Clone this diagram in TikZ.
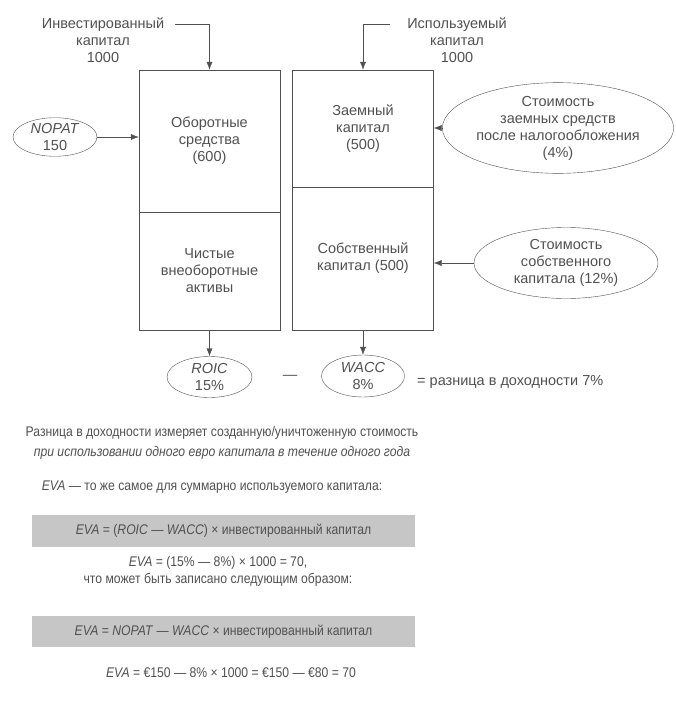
\documentclass[tikz,border=0pt]{standalone}
\usepackage{fontspec}
\setmainfont{Liberation Sans}
\newfontfamily\narrowfont{Liberation Sans}[FakeStretch=0.87]
\usepackage{xcolor}
\usepackage{tikz}
\usetikzlibrary{positioning}
\usetikzlibrary{shapes.geometric, arrows.meta, calc}
\definecolor{ink}{HTML}{505050}
\definecolor{band}{HTML}{C6C6C6}
\tikzstyle{block} = [rectangle, draw=ink, minimum width=141pt, inner sep=0pt, text centered, align=center]
\tikzstyle{oval} = [ellipse, draw=ink, inner sep=0pt, align=center]
\tikzstyle{arrow} = [draw=ink, -{Latex[length=8pt,width=6pt]}]
\tikzstyle{note} = [align=center, inner sep=0pt, font=\narrowfont\fontsize{14}{17}\selectfont]
\tikzstyle{eqband} = [note, fill=band, minimum width=383pt, minimum height=32pt]

\begin{document}
\begin{tikzpicture}[x=1pt, y=-1pt, every node/.style={text=ink}, font=\fontsize{14.5}{17}\selectfont]
\useasboundingbox (0,0) rectangle (676,704);
% invested capital
\node[block, minimum height=142pt] (cur) at (209.5,141) {Оборотные\\средства\\(600)};
\node[block, minimum height=118pt] (fix) at (209.5,271) {Чистые\\внеоборотные\\активы};
% capital employed
\node[block, minimum height=117pt] (debt) at (363,128.5) {Заемный\\капитал\\(500)};
\node[block, minimum height=143pt] (equity) at (363,258.5) {Собственный\\капитал (500)};
\node[align=center] (invested) at (103,40) {Инвестированный\\капитал\\1000};
\node[align=center] (employed) at (457,40) {Используемый\\капитал\\1000};
\coordinate (investedend) at (175,24);
\coordinate (employedend) at (390,24);
\draw[arrow] (investedend) -| (cur.north);
\draw[arrow] (employedend) -| (debt.north);
% rates
\node[oval, minimum width=84pt, minimum height=37pt] (nopat) at (55,137) {\textit{NOPAT}\\150};
\node[oval, minimum width=170pt, minimum height=90pt] (debtcost) at (558,128) {Стоимость\\заемных средств\\после налогообложения\\(4\%)};
\node[oval, minimum width=184pt, minimum height=71pt] (equitycost) at (566,263) {Стоимость\\собственного\\капитала (12\%)};
\node[oval, minimum width=85pt, minimum height=41pt] (roic) at (209.5,377) {\textit{ROIC}\\15\%};
\node[oval, minimum width=83pt, minimum height=42pt] (wacc) at (363,376) {\textit{WACC}\\8\%};
\node (minus) at (290,377) {—};
\node[anchor=west, inner sep=0pt] (spread) at (417,382) {= разница в доходности 7\%};
\draw[arrow] (nopat.east) -- (nopat.east -| cur.west);
\draw[arrow] (debtcost.west) -- (debtcost.west -| debt.east);
\draw[arrow] (equitycost.west) -- (equitycost.west -| equity.east);
\draw[arrow] (fix.south) -- (roic.north);
\draw[arrow] (equity.south) -- (wacc.north);
% EVA
\node[note] (spreadnote) at (222,443) {Разница в доходности измеряет созданную/уничтоженную стоимость\\[3pt]\textit{при использовании одного евро капитала в течение одного года}};
\node[note] (evanote) at (212,487) {\textit{EVA} — то же самое для суммарно используемого капитала:};
\node[eqband] (evaone) at (223.5,531) {\textit{EVA} = (\textit{ROIC} — \textit{WACC}) × инвестированный капитал};
\node[note] (evacalc) at (218,571.5) {\textit{EVA} = (15\% — 8\%) × 1000 = 70,\\что может быть записано следующим образом:};
\node[eqband, minimum height=31pt] (evatwo) at (223.5,631.5) {\textit{EVA} = \textit{NOPAT} — \textit{WACC} × инвестированный капитал};
\node[note] (evaresult) at (231,673) {\textit{EVA} = €150 — 8\% × 1000 = €150 — €80 = 70};
\end{tikzpicture}
\end{document}
